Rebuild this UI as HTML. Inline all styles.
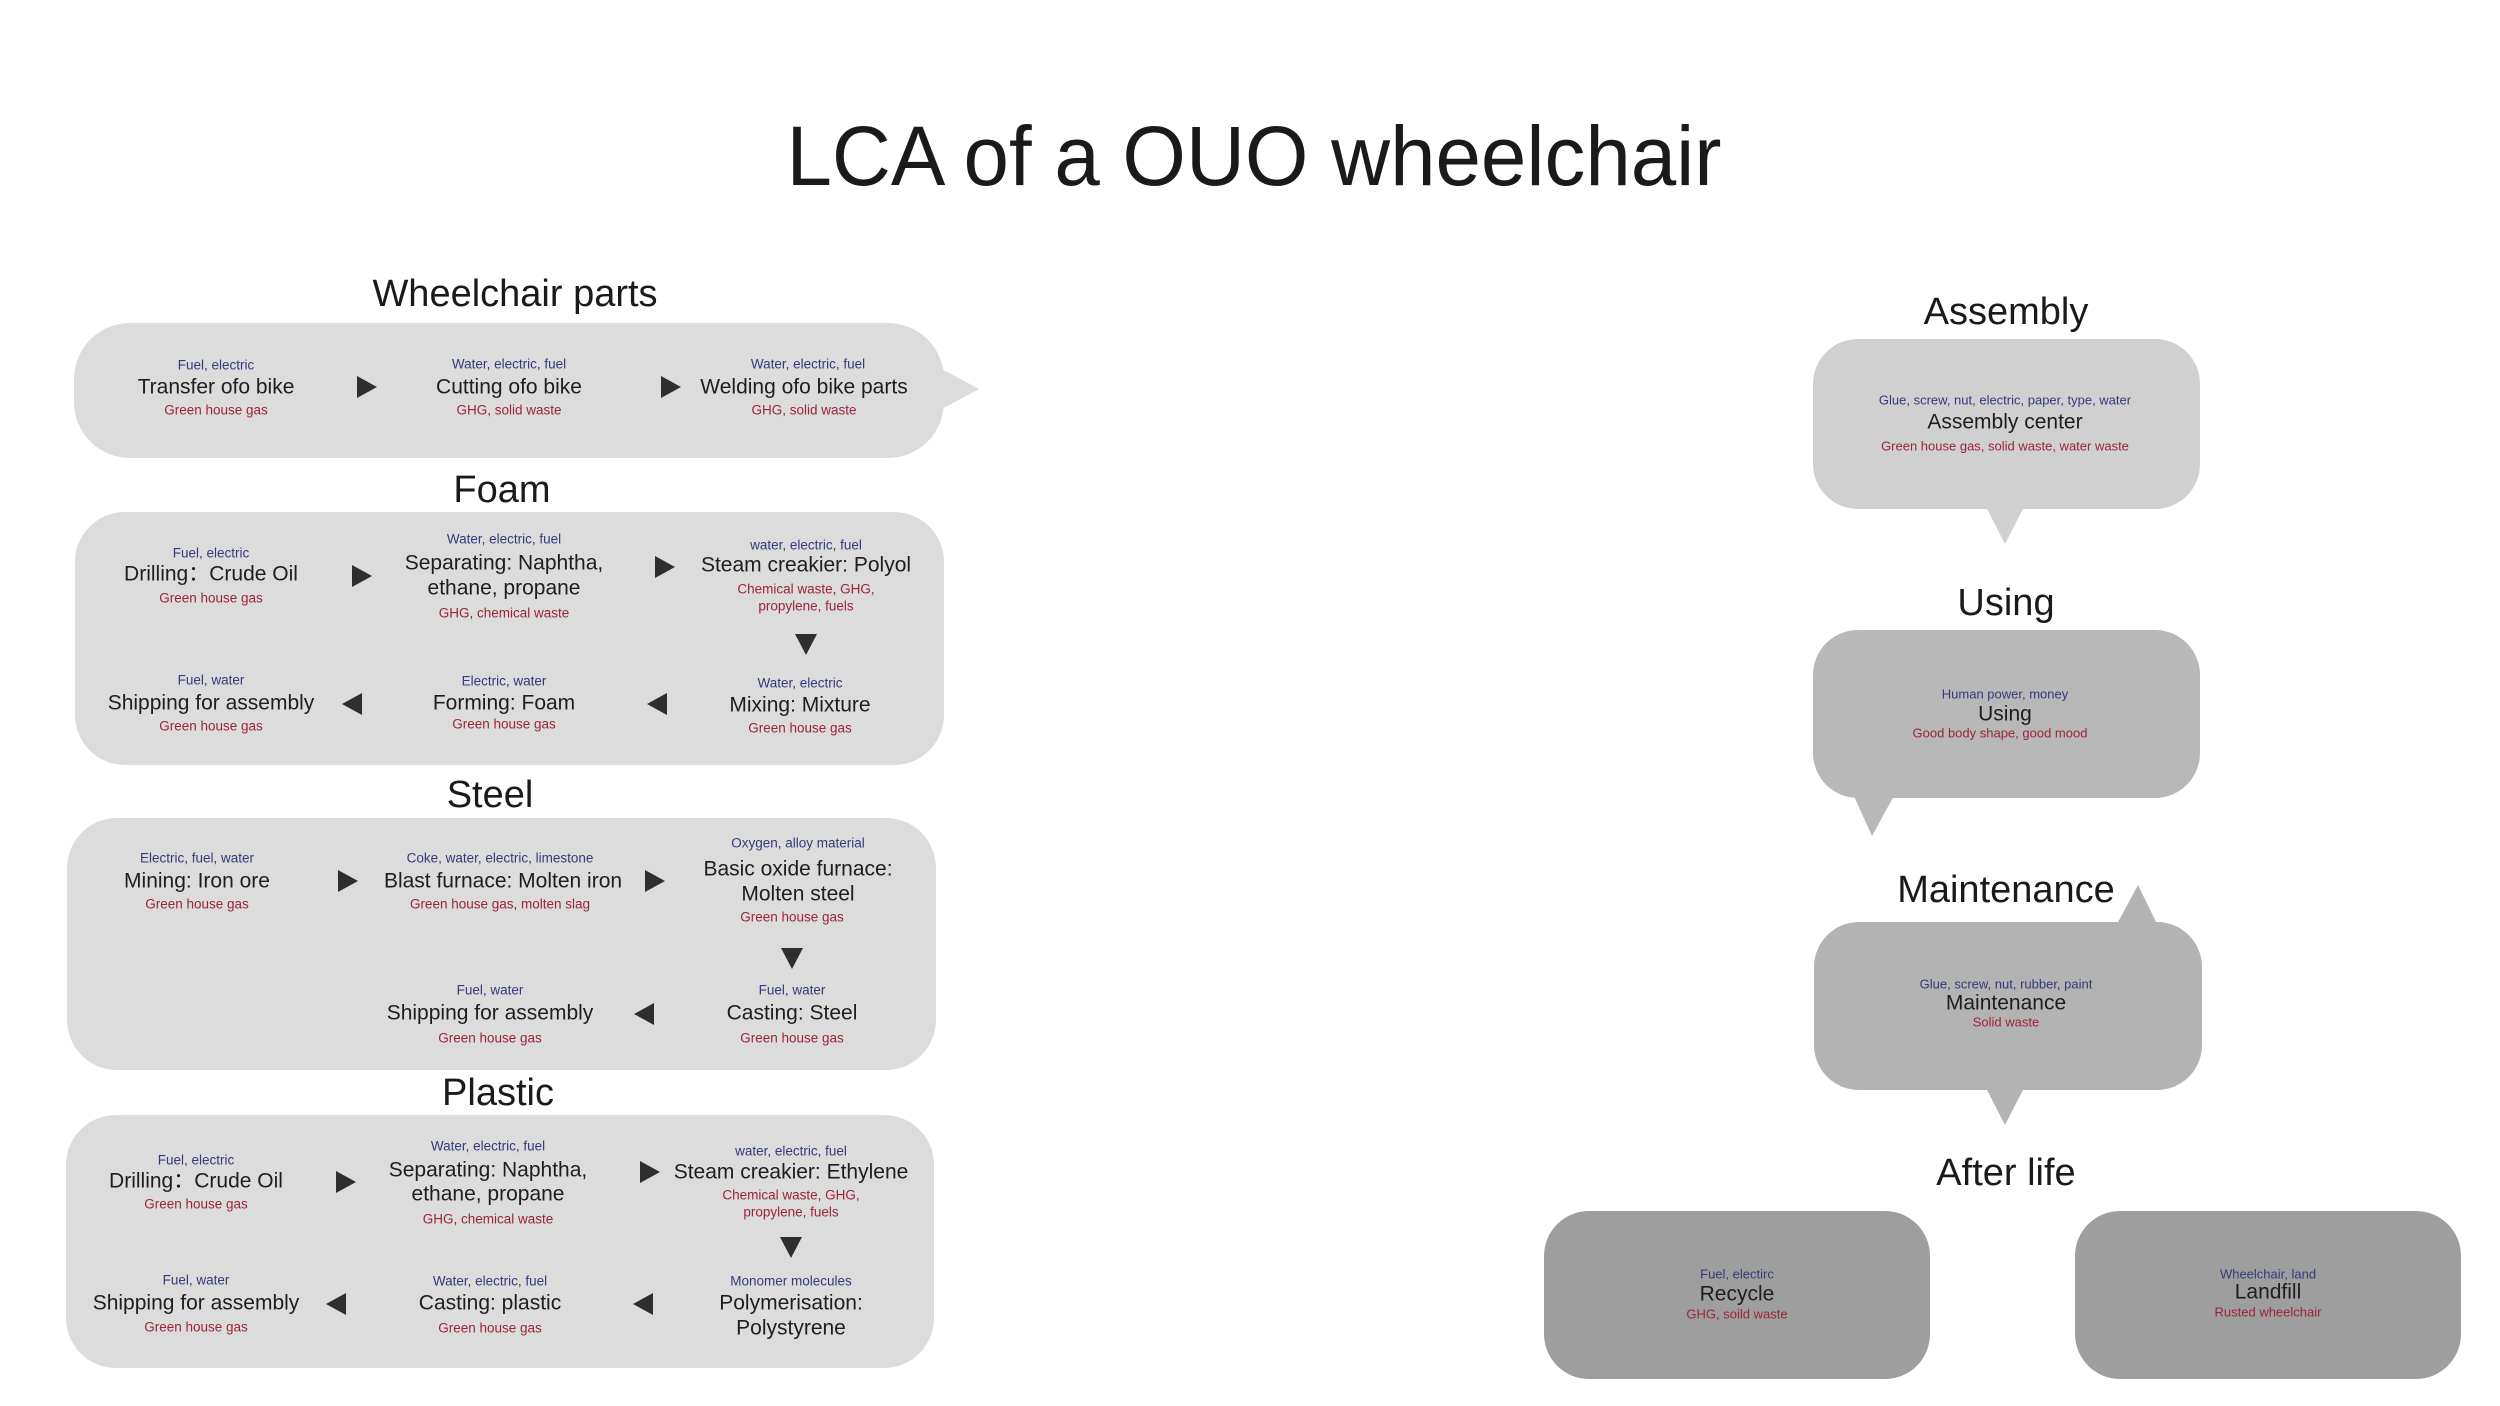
<!DOCTYPE html>
<html><head><meta charset="utf-8"><style>
html,body{margin:0;padding:0;background:#fff;}
svg{display:block;}
text{font-family:"Liberation Sans","DejaVu Sans",sans-serif;}
.m{font-size:21px;fill:#1e1e1e;}
.b{font-size:13.5px;fill:#353a7a;}
.r{font-size:13.5px;fill:#9b2438;}
.h{font-size:38px;fill:#1a1a1a;}
.rm{font-size:21px;fill:#1e1e1e;}
.rb{font-size:13px;fill:#353a7a;}
.rr{font-size:13px;fill:#9b2438;}
.ar{fill:#2e2e2e;}
</style></head><body>
<svg width="2500" height="1406" viewBox="0 0 2500 1406" xmlns="http://www.w3.org/2000/svg" text-anchor="middle" dominant-baseline="central">
<text x="1254" y="156" style="font-size:84px;fill:#1a1a1a" textLength="935" lengthAdjust="spacingAndGlyphs">LCA of a OUO wheelchair</text>

<!-- Wheelchair parts -->
<text class="h" x="515" y="294">Wheelchair parts</text>
<rect x="74" y="323" width="870" height="135" rx="56" fill="#dcdcdc"/>
<polygon points="940,368 979,389 940,410" fill="#dcdcdc"/>
<text class="b" x="216" y="365">Fuel, electric</text>
<text class="m" x="216" y="387">Transfer ofo bike</text>
<text class="r" x="216" y="410">Green house gas</text>
<polygon class="ar" points="357,376 377,387 357,398"/>
<text class="b" x="509" y="364">Water, electric, fuel</text>
<text class="m" x="509" y="387">Cutting ofo bike</text>
<text class="r" x="509" y="410">GHG, solid waste</text>
<polygon class="ar" points="661,376 681,387 661,398"/>
<text class="b" x="808" y="364">Water, electric, fuel</text>
<text class="m" x="804" y="387">Welding ofo bike parts</text>
<text class="r" x="804" y="410">GHG, solid waste</text>

<!-- Foam -->
<text class="h" x="502" y="490">Foam</text>
<rect x="75" y="512" width="869" height="253" rx="50" fill="#dcdcdc"/>
<text class="b" x="211" y="553">Fuel, electric</text>
<text class="m" x="211" y="574">Drilling：Crude Oil</text>
<text class="r" x="211" y="598">Green house gas</text>
<polygon class="ar" points="352,565 372,576 352,587"/>
<text class="b" x="504" y="539">Water, electric, fuel</text>
<text class="m" x="504" y="563">Separating: Naphtha,</text>
<text class="m" x="504" y="588">ethane, propane</text>
<text class="r" x="504" y="613">GHG, chemical waste</text>
<polygon class="ar" points="655,556 675,567 655,578"/>
<text class="b" x="806" y="545">water, electric, fuel</text>
<text class="m" x="806" y="565">Steam creakier: Polyol</text>
<text class="r" x="806" y="589">Chemical waste, GHG,</text>
<text class="r" x="806" y="606">propylene, fuels</text>
<polygon class="ar" points="795,634 817,634 806,655"/>
<text class="b" x="211" y="680">Fuel, water</text>
<text class="m" x="211" y="703">Shipping for assembly</text>
<text class="r" x="211" y="726">Green house gas</text>
<polygon class="ar" points="362,693 342,704 362,715"/>
<text class="b" x="504" y="681">Electric, water</text>
<text class="m" x="504" y="703">Forming: Foam</text>
<text class="r" x="504" y="724">Green house gas</text>
<polygon class="ar" points="667,693 647,704 667,715"/>
<text class="b" x="800" y="683">Water, electric</text>
<text class="m" x="800" y="705">Mixing: Mixture</text>
<text class="r" x="800" y="728">Green house gas</text>

<!-- Steel -->
<text class="h" x="490" y="795">Steel</text>
<rect x="67" y="818" width="869" height="252" rx="50" fill="#dcdcdc"/>
<text class="b" x="197" y="858">Electric, fuel, water</text>
<text class="m" x="197" y="881">Mining: Iron ore</text>
<text class="r" x="197" y="904">Green house gas</text>
<polygon class="ar" points="338,870 358,881 338,892"/>
<text class="b" x="500" y="858">Coke, water, electric, limestone</text>
<text class="m" x="503" y="881">Blast furnace: Molten iron</text>
<text class="r" x="500" y="904">Green house gas, molten slag</text>
<polygon class="ar" points="645,870 665,881 645,892"/>
<text class="b" x="798" y="843">Oxygen, alloy material</text>
<text class="m" x="798" y="869">Basic oxide furnace:</text>
<text class="m" x="798" y="894">Molten steel</text>
<text class="r" x="792" y="917">Green house gas</text>
<polygon class="ar" points="781,948 803,948 792,969"/>
<text class="b" x="490" y="990">Fuel, water</text>
<text class="m" x="490" y="1013">Shipping for assembly</text>
<text class="r" x="490" y="1038">Green house gas</text>
<polygon class="ar" points="654,1003 634,1014 654,1025"/>
<text class="b" x="792" y="990">Fuel, water</text>
<text class="m" x="792" y="1013">Casting: Steel</text>
<text class="r" x="792" y="1038">Green house gas</text>

<!-- Plastic -->
<text class="h" x="498" y="1093">Plastic</text>
<rect x="66" y="1115" width="868" height="253" rx="50" fill="#dcdcdc"/>
<text class="b" x="196" y="1160">Fuel, electric</text>
<text class="m" x="196" y="1181">Drilling：Crude Oil</text>
<text class="r" x="196" y="1204">Green house gas</text>
<polygon class="ar" points="336,1171 356,1182 336,1193"/>
<text class="b" x="488" y="1146">Water, electric, fuel</text>
<text class="m" x="488" y="1170">Separating: Naphtha,</text>
<text class="m" x="488" y="1194">ethane, propane</text>
<text class="r" x="488" y="1219">GHG, chemical waste</text>
<polygon class="ar" points="640,1161 660,1172 640,1183"/>
<text class="b" x="791" y="1151">water, electric, fuel</text>
<text class="m" x="791" y="1172">Steam creakier: Ethylene</text>
<text class="r" x="791" y="1195">Chemical waste, GHG,</text>
<text class="r" x="791" y="1212">propylene, fuels</text>
<polygon class="ar" points="780,1237 802,1237 791,1258"/>
<text class="b" x="196" y="1280">Fuel, water</text>
<text class="m" x="196" y="1303">Shipping for assembly</text>
<text class="r" x="196" y="1327">Green house gas</text>
<polygon class="ar" points="346,1293 326,1304 346,1315"/>
<text class="b" x="490" y="1281">Water, electric, fuel</text>
<text class="m" x="490" y="1303">Casting: plastic</text>
<text class="r" x="490" y="1328">Green house gas</text>
<polygon class="ar" points="653,1293 633,1304 653,1315"/>
<text class="b" x="791" y="1281">Monomer molecules</text>
<text class="m" x="791" y="1303">Polymerisation:</text>
<text class="m" x="791" y="1328">Polystyrene</text>

<!-- Right column -->
<text class="h" x="2006" y="312">Assembly</text>
<rect x="1813" y="339" width="387" height="170" rx="45" fill="#d0d0d0"/>
<polygon points="1985,505 2025,505 2005,544" fill="#d0d0d0"/>
<text class="rb" x="2005" y="400">Glue, screw, nut, electric, paper, type, water</text>
<text class="rm" x="2005" y="422">Assembly center</text>
<text class="rr" x="2005" y="446">Green house gas, solid waste, water waste</text>

<text class="h" x="2006" y="603">Using</text>
<rect x="1813" y="630" width="387" height="168" rx="45" fill="#b8b8b8"/>
<polygon points="1853,794 1895,794 1872,836" fill="#b8b8b8"/>
<text class="rb" x="2005" y="694">Human power, money</text>
<text class="rm" x="2005" y="714">Using</text>
<text class="rr" x="2000" y="733">Good body shape, good mood</text>

<text class="h" x="2006" y="890">Maintenance</text>
<rect x="1814" y="922" width="388" height="168" rx="45" fill="#b3b3b3"/>
<polygon points="2116,926 2158,926 2138,885" fill="#b3b3b3"/>
<polygon points="1985,1086 2025,1086 2005,1125" fill="#b3b3b3"/>
<text class="rb" x="2006" y="984">Glue, screw, nut, rubber, paint</text>
<text class="rm" x="2006" y="1003">Maintenance</text>
<text class="rr" x="2006" y="1022">Solid waste</text>

<text class="h" x="2006" y="1173">After life</text>
<rect x="1544" y="1211" width="386" height="168" rx="45" fill="#9e9e9e"/>
<rect x="2075" y="1211" width="386" height="168" rx="45" fill="#9e9e9e"/>
<text class="rb" x="1737" y="1274">Fuel, electirc</text>
<text class="rm" x="1737" y="1294">Recycle</text>
<text class="rr" x="1737" y="1314">GHG, soild waste</text>
<text class="rb" x="2268" y="1274">Wheelchair, land</text>
<text class="rm" x="2268" y="1292">Landfill</text>
<text class="rr" x="2268" y="1312">Rusted wheelchair</text>
</svg>
</body></html>
